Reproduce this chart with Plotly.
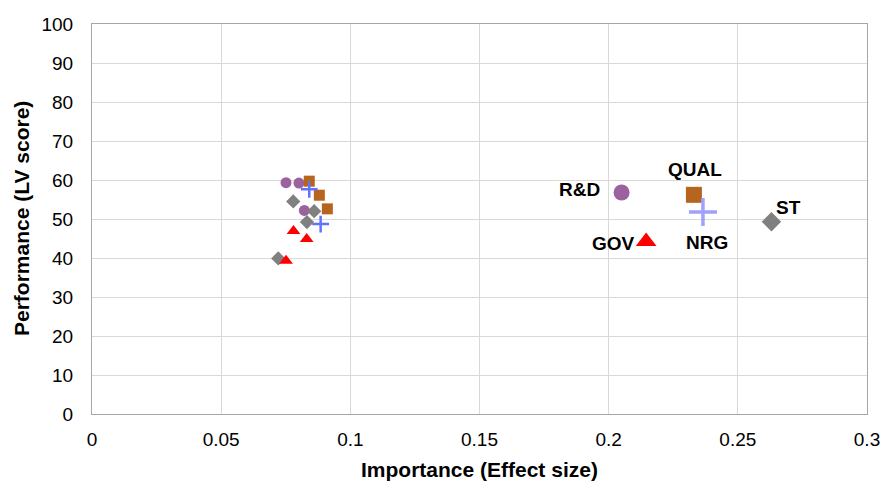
import plotly.graph_objects as go

# Small (indicator) markers per construct
rd_x = [0.0751, 0.0801, 0.0822]
rd_y = [59.3, 59.2, 52.2]
qual_x = [0.0841, 0.0880, 0.0911]
qual_y = [59.7, 56.1, 52.6]
nrg_x = [0.0841, 0.0885]
nrg_y = [57.6, 48.7]
st_x = [0.0779, 0.0860, 0.0832, 0.0721]
st_y = [54.5, 52.0, 49.2, 39.9]
gov_x = [0.0780, 0.0831, 0.0751]
gov_y = [46.9, 44.9, 39.3]

# Construct (LV) markers
lv_names = ["R&D", "QUAL", "NRG", "GOV", "ST"]
lv_x = [0.205, 0.233, 0.2365, 0.2145, 0.263]
lv_y = [56.8, 56.2, 51.8, 44.2, 49.3]

x_ticks = [0, 0.05, 0.1, 0.15, 0.2, 0.25, 0.3]
x_tick_labels = ["0", "0.05", "0.1", "0.15", "0.2", "0.25", "0.3"]
x_title = "Importance (Effect size)"
y_title = "Performance (LV score)"

colors = {"R&D": "#9C62A0", "QUAL": "#B5651D", "NRG": "#A0A0FF", "GOV": "#FF0000", "ST": "#808080"}
symbols = {"R&D": "circle", "QUAL": "square", "NRG": "cross-thin", "GOV": "triangle-up", "ST": "diamond"}
big_sizes = {"R&D": 16, "QUAL": 16, "NRG": 20, "GOV": 18, "ST": 15}

fig = go.Figure()

small = [("R&D", rd_x, rd_y), ("QUAL", qual_x, qual_y), ("NRG", nrg_x, nrg_y),
         ("ST", st_x, st_y), ("GOV", gov_x, gov_y)]
for name, xs, ys in small:
    if symbols[name] == "cross-thin":
        mk = dict(symbol="cross-thin", size=12, line=dict(color="#6272FF", width=2.5))
    else:
        mk = dict(symbol=symbols[name], size=11 if name != "GOV" else 12, color=colors[name],
                  line=dict(width=0))
    fig.add_trace(go.Scatter(x=xs, y=ys, mode="markers", marker=mk, showlegend=False,
                             hoverinfo="x+y"))

for name, x, y in zip(lv_names, lv_x, lv_y):
    if symbols[name] == "cross-thin":
        mk = dict(symbol="cross-thin", size=big_sizes[name], line=dict(color=colors[name], width=3.5))
    else:
        mk = dict(symbol=symbols[name], size=big_sizes[name], color=colors[name], line=dict(width=0))
    fig.add_trace(go.Scatter(x=[x], y=[y], mode="markers", marker=mk, showlegend=False,
                             name=name))

label_font = dict(family="Arial, Liberation Sans", size=19, color="#000000", weight="bold")
label_offsets = {"R&D": (-42, 3), "QUAL": (1, 25), "NRG": (4, -31), "GOV": (-33, -2), "ST": (17, 14)}
for name, x, y in zip(lv_names, lv_x, lv_y):
    dx, dy = label_offsets[name]
    fig.add_annotation(x=x, y=y, xref="x", yref="y", text=name, showarrow=False,
                       xshift=dx, yshift=dy, font=label_font)

title_font = dict(family="Arial, Liberation Sans", size=21, color="#000000", weight="bold")
fig.add_annotation(x=0.5, y=0, xref="paper", yref="paper", text=x_title, showarrow=False,
                   yshift=-55, xanchor="center", yanchor="middle", font=title_font)
fig.add_annotation(x=0, y=0.5, xref="paper", yref="paper", text=y_title, showarrow=False,
                   xshift=-71, textangle=-90, xanchor="center", yanchor="middle", font=title_font)

tick_font = dict(family="Arial, Liberation Sans", size=19, color="#000000")
fig.update_layout(
    width=883, height=482,
    margin=dict(l=92, r=16, t=24, b=68),
    paper_bgcolor="white", plot_bgcolor="white",
    font=tick_font,
    xaxis=dict(range=[0, 0.3], tickvals=x_ticks, ticktext=x_tick_labels,
               showgrid=True, gridcolor="#D9D9D9", gridwidth=1,
               showline=True, linecolor="#A6A6A6", mirror=True, zeroline=False,
               ticks="", tickfont=tick_font, ticklabelstandoff=8, automargin=False),
    yaxis=dict(range=[0, 100], dtick=10,
               showgrid=True, gridcolor="#D9D9D9", gridwidth=1,
               showline=True, linecolor="#A6A6A6", mirror=True, zeroline=False,
               ticks="", tickfont=tick_font, ticklabelstandoff=14, automargin=False),
)

fig.write_html("out.html", config={"displayModeBar": False},
               post_script="document.body.style.margin='0';")
